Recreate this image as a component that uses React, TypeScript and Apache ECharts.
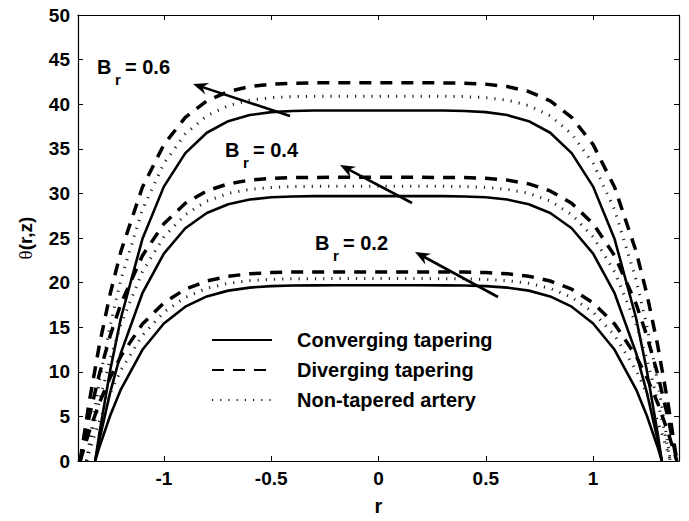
import { useEffect, useRef } from "react";
import * as echarts from "echarts";

// Radial grids (r) for each artery geometry
const convergingR = [
  -1.32, -1.3, -1.25, -1.2, -1.1, -1.0, -0.9, -0.8, -0.7, -0.6, -0.5, -0.4, -0.3, -0.2, -0.1,
  0,
  0.1, 0.2, 0.3, 0.4, 0.5, 0.6, 0.7, 0.8, 0.9, 1.0, 1.1, 1.2, 1.25, 1.3, 1.32,
];
const nonTaperedR = [
  -1.36, -1.33, -1.3, -1.25, -1.2, -1.1, -1.0, -0.9, -0.8, -0.7, -0.6, -0.5, -0.4, -0.3, -0.2, -0.1,
  0,
  0.1, 0.2, 0.3, 0.4, 0.5, 0.6, 0.7, 0.8, 0.9, 1.0, 1.1, 1.2, 1.25, 1.3, 1.33, 1.36,
];
const divergingR = [
  -1.39, -1.35, -1.3, -1.25, -1.2, -1.1, -1.0, -0.9, -0.8, -0.7, -0.6, -0.5, -0.4, -0.3, -0.2, -0.1,
  0,
  0.1, 0.2, 0.3, 0.4, 0.5, 0.6, 0.7, 0.8, 0.9, 1.0, 1.1, 1.2, 1.25, 1.3, 1.35, 1.39,
];

// Temperature profiles θ(r,z), converging tapering
const convergingBr06 = [
  0, 3.18, 10.18, 16.03, 24.88, 30.76, 34.52, 36.8, 38.1, 38.78, 39.11, 39.24, 39.29, 39.3, 39.3,
  39.3,
  39.3, 39.3, 39.29, 39.24, 39.11, 38.78, 38.1, 36.8, 34.52, 30.76, 24.88, 16.03, 10.18, 3.18, 0,
];
const convergingBr04 = [
  0, 2.41, 7.69, 12.12, 18.81, 23.25, 26.09, 27.81, 28.79, 29.31, 29.56, 29.66, 29.69, 29.7, 29.7,
  29.7,
  29.7, 29.7, 29.69, 29.66, 29.56, 29.31, 28.79, 27.81, 26.09, 23.25, 18.81, 12.12, 7.69, 2.41, 0,
];
const convergingBr02 = [
  0, 1.6, 5.1, 8.04, 12.47, 15.42, 17.3, 18.45, 19.1, 19.44, 19.61, 19.67, 19.69, 19.7, 19.7,
  19.7,
  19.7, 19.7, 19.69, 19.67, 19.61, 19.44, 19.1, 18.45, 17.3, 15.42, 12.47, 8.04, 5.1, 1.6, 0,
];

// Non-tapered artery
const nonTaperedBr06 = [
  0, 4.72, 8.98, 15.19, 20.35, 28.17, 33.36, 36.67, 38.69, 39.84, 40.45, 40.73, 40.85, 40.89, 40.9, 40.9,
  40.9,
  40.9, 40.9, 40.89, 40.85, 40.73, 40.45, 39.84, 38.69, 36.67, 33.36, 28.17, 20.35, 15.19, 8.98, 4.72, 0,
];
const nonTaperedBr04 = [
  0, 3.56, 6.76, 11.44, 15.33, 21.21, 25.12, 27.62, 29.14, 30.0, 30.46, 30.67, 30.76, 30.79, 30.8, 30.8,
  30.8,
  30.8, 30.8, 30.79, 30.76, 30.67, 30.46, 30.0, 29.14, 27.62, 25.12, 21.21, 15.33, 11.44, 6.76, 3.56, 0,
];
const nonTaperedBr02 = [
  0, 2.36, 4.49, 7.59, 10.18, 14.08, 16.68, 18.34, 19.35, 19.92, 20.22, 20.37, 20.43, 20.44, 20.45, 20.45,
  20.45,
  20.45, 20.45, 20.44, 20.43, 20.37, 20.22, 19.92, 19.35, 18.34, 16.68, 14.08, 10.18, 7.59, 4.49, 2.36, 0,
];

// Diverging tapering
const divergingBr06 = [
  0, 6.3, 13.06, 18.75, 23.51, 30.69, 35.47, 38.52, 40.37, 41.42, 41.98, 42.25, 42.35, 42.39, 42.4, 42.4,
  42.4,
  42.4, 42.4, 42.39, 42.35, 42.25, 41.98, 41.42, 40.37, 38.52, 35.47, 30.69, 23.51, 18.75, 13.06, 6.3, 0,
];
const divergingBr04 = [
  0, 4.72, 9.79, 14.06, 17.63, 23.02, 26.6, 28.89, 30.28, 31.07, 31.49, 31.69, 31.77, 31.79, 31.8, 31.8,
  31.8,
  31.8, 31.8, 31.79, 31.77, 31.69, 31.49, 31.07, 30.28, 28.89, 26.6, 23.02, 17.63, 14.06, 9.79, 4.72, 0,
];
const divergingBr02 = [
  0, 3.15, 6.53, 9.37, 11.76, 15.35, 17.73, 19.26, 20.18, 20.71, 20.99, 21.12, 21.18, 21.19, 21.2, 21.2,
  21.2,
  21.2, 21.2, 21.19, 21.18, 21.12, 20.99, 20.71, 20.18, 19.26, 17.73, 15.35, 11.76, 9.37, 6.53, 3.15, 0,
];

const legendNames = ["Converging tapering", "Diverging tapering", "Non-tapered artery"];
const xTickValues = [-1, -0.5, 0, 0.5, 1];
const brLabels = ["0.6", "0.4", "0.2"];

const FONT = "Liberation Sans, Arial, Helvetica, sans-serif";

function pairs(rs: number[], vs: number[]) {
  return rs.map((r, i) => [r, vs[i]]);
}

function arrow(x1: number, y1: number, x2: number, y2: number) {
  const dx = x2 - x1;
  const dy = y2 - y1;
  const len = Math.hypot(dx, dy);
  const ux = dx / len;
  const uy = dy / len;
  const px = -uy;
  const py = ux;
  const headLen = 15;
  const halfW = 6;
  const notch = 10;
  const bx = x2 - ux * headLen;
  const by = y2 - uy * headLen;
  const nx = x2 - ux * notch;
  const ny = y2 - uy * notch;
  return [
    {
      type: "line",
      shape: { x1, y1, x2: nx, y2: ny },
      style: { stroke: "#000", lineWidth: 2.6 },
      z: 100,
    },
    {
      type: "polygon",
      shape: {
        points: [
          [x2, y2],
          [bx + px * halfW, by + py * halfW],
          [nx, ny],
          [bx - px * halfW, by - py * halfW],
        ],
      },
      style: { fill: "#000" },
      z: 100,
    },
  ];
}

function brLabel(x: number, y: number, value: string) {
  return [
    {
      type: "text",
      x,
      y,
      style: { text: "B", font: `bold 20px ${FONT}`, fill: "#000", verticalAlign: "middle", align: "left" },
      z: 100,
    },
    {
      type: "text",
      x: x + 18,
      y: y + 12,
      style: { text: "r", font: `bold 15px ${FONT}`, fill: "#000", verticalAlign: "middle", align: "left" },
      z: 100,
    },
    {
      type: "text",
      x: x + 28,
      y,
      style: { text: `= ${value}`, font: `bold 20px ${FONT}`, fill: "#000", verticalAlign: "middle", align: "left" },
      z: 100,
    },
  ];
}

export default function App() {
  const ref = useRef<HTMLDivElement>(null);

  useEffect(() => {
    if (!ref.current) return;
    const chart = echarts.init(ref.current, null, { renderer: "svg" });

    const solid = { color: "#000", width: 2.6, type: "solid" as const };
    const dashed = { color: "#000", width: 3.5, type: [12, 9], cap: "butt" as const };
    const dotted = { color: "#222", width: 3, type: [1.2, 7], cap: "butt" as const };

    const mk = (name: string, rs: number[], vs: number[], lineStyle: any) => ({
      type: "line",
      name,
      data: pairs(rs, vs),
      symbol: "none",
      showSymbol: false,
      silent: true,
      itemStyle: { color: "#000" },
      lineStyle,
      xAxisIndex: 0,
      yAxisIndex: 0,
    });

    const series = [
      mk(legendNames[0], convergingR, convergingBr06, solid),
      mk(legendNames[1], divergingR, divergingBr06, dashed),
      mk(legendNames[2], nonTaperedR, nonTaperedBr06, dotted),
      mk(legendNames[0], convergingR, convergingBr04, solid),
      mk(legendNames[1], divergingR, divergingBr04, dashed),
      mk(legendNames[2], nonTaperedR, nonTaperedBr04, dotted),
      mk(legendNames[0], convergingR, convergingBr02, solid),
      mk(legendNames[1], divergingR, divergingBr02, dashed),
      mk(legendNames[2], nonTaperedR, nonTaperedBr02, dotted),
    ];

    const axisLine = { show: true, onZero: false, lineStyle: { color: "#000", width: 1.2 } };
    const tickStyle = { color: "#000", width: 1 };

    chart.setOption({
      animation: false,
      backgroundColor: "#fff",
      grid: { left: 78, right: 10, top: 15, bottom: 53 },
      legend: {
        data: legendNames,
        orient: "vertical",
        left: 211,
        top: 330,
        padding: 0,
        itemWidth: 60,
        itemHeight: 14,
        itemGap: 10,
        selectedMode: false,
        itemStyle: { opacity: 0 },
        textStyle: {
          fontSize: 20,
          fontWeight: "bold",
          fontFamily: FONT,
          color: "#000",
          lineHeight: 20,
          padding: [0, 0, 0, 20],
        },
      },
      xAxis: [
        {
          type: "value",
          min: -1.4,
          max: 1.4,
          position: "bottom",
          name: "r",
          nameLocation: "middle",
          nameGap: 35,
          nameTextStyle: { fontSize: 20, fontWeight: "bold", fontFamily: FONT, color: "#000" },
          axisLine,
          axisTick: { show: true, inside: true, length: 5, lineStyle: tickStyle, customValues: xTickValues },
          axisLabel: {
            show: true,
            margin: 8,
            fontSize: 19,
            fontWeight: "bold",
            fontFamily: FONT,
            color: "#000",
            customValues: xTickValues,
            formatter: (v: number) => String(v),
          },
          splitLine: { show: false },
        },
        {
          type: "value",
          min: -1.4,
          max: 1.4,
          position: "top",
          axisLine,
          axisTick: { show: true, inside: true, length: 5, lineStyle: tickStyle, customValues: xTickValues },
          axisLabel: { show: false },
          splitLine: { show: false },
        },
      ],
      yAxis: [
        {
          type: "value",
          min: 0,
          max: 50,
          interval: 5,
          position: "left",
          name: "{t|θ}{b|(r,z)}",
          nameLocation: "middle",
          nameGap: 43,
          nameRotate: 90,
          nameTextStyle: {
            rich: {
              t: { fontSize: 19, fontFamily: "Liberation Serif, serif", color: "#000" },
              b: { fontSize: 19, fontWeight: "bold", fontFamily: FONT, color: "#000" },
            },
          },
          axisLine,
          axisTick: { show: true, inside: true, length: 5, lineStyle: tickStyle },
          axisLabel: { margin: 8, fontSize: 19, fontWeight: "bold", fontFamily: FONT, color: "#000" },
          splitLine: { show: false },
        },
        {
          type: "value",
          min: 0,
          max: 50,
          interval: 5,
          position: "right",
          axisLine,
          axisTick: { show: true, inside: true, length: 5, lineStyle: tickStyle },
          axisLabel: { show: false },
          splitLine: { show: false },
        },
      ],
      series,
      graphic: [
        ...brLabel(97, 67, brLabels[0]),
        ...brLabel(225, 150, brLabels[1]),
        ...brLabel(315, 243, brLabels[2]),
        ...arrow(290, 116, 193, 84),
        ...arrow(412, 203, 340, 165),
        ...arrow(498, 297, 415, 252),
      ],
    });

    return () => chart.dispose();
  }, []);

  return (
    <div
      ref={ref}
      style={{ position: "fixed", left: 0, top: 0, width: 689, height: 521, background: "#fff" }}
    />
  );
}
